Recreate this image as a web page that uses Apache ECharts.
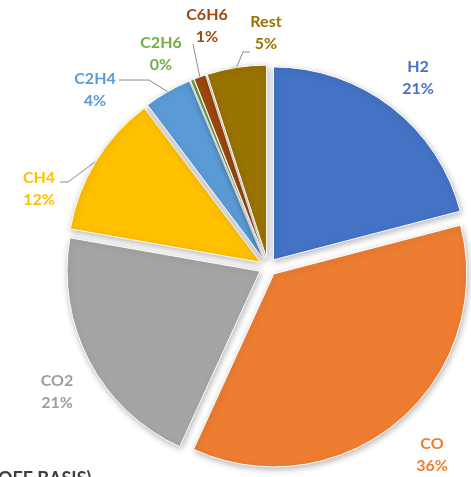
<!DOCTYPE html>
<html>
<head>
<meta charset="utf-8">
<script src="https://cdn.jsdelivr.net/npm/echarts@6/dist/echarts.min.js"></script>
<style>
  html, body { margin: 0; padding: 0; background: #ffffff; }
  #chart { width: 471px; height: 477px; }
</style>
</head>
<body>
<div id="chart"></div>
<script>
// Gas composition, share of each component (%)
const categories = ['H2', 'CO', 'CO2', 'CH4', 'C2H4', 'C2H6', 'C6H6', 'Rest'];
const shares = [21, 36, 21, 12, 4, 0.3, 1, 5];
const footnote = 'OFF BASIS)';

// Slice colours and label colours
const sliceColors = ['#4472C4', '#ED7D31', '#A5A5A5', '#FFC000', '#5B9BD5', '#70AD47', '#9E480E', '#997300'];
const labelColors = ['#4472C4', '#ED7D31', '#9E9E9E', '#FFC000', '#5B9BD5', '#70AD47', '#9E480E', '#997300'];

// Pie geometry
const pieCenter = [268, 267];
const pieRadius = 193;
const explode = 9;

// Where each two-line label block is centred, and leader-line elbows (label side first)
const labelSpots = {
  H2:   [418, 78],
  CO:   [432, 455],
  CO2:  [57, 392],
  CH4:  [39, 189],
  C2H4: [95, 90],
  C2H6: [161, 54],
  C6H6: [207, 26],
  Rest: [266, 33]
};
const leaderElbows = {
  CH4:  [[60, 182], [68, 182]],
  C2H4: [[119, 80], [149, 80]],
  C6H6: [[193, 44]],
  Rest: [[250, 52], [243, 52]]
};

const chart = echarts.init(document.getElementById('chart'), null, { renderer: 'canvas' });

// Exploded slices (no labels)
const sliceData = categories.map((name, i) => ({
  name: name,
  value: shares[i],
  selected: true,
  itemStyle: { color: sliceColors[i] }
}));

// Same values again, transparent, carrying the labels
const labelData = categories.map((name, i) => ({
  name: name,
  value: shares[i],
  label: { color: labelColors[i] },
  labelLine: { show: !!leaderElbows[name] }
}));

chart.setOption({
  animation: false,
  backgroundColor: '#ffffff',
  graphic: [{
    type: 'text',
    x: -2,
    y: 470,
    style: {
      text: footnote,
      font: 'bold 18px Lato',
      fill: '#404040',
      verticalAlign: 'top'
    }
  }],
  series: [{
    type: 'pie',
    center: pieCenter,
    radius: [0, pieRadius],
    startAngle: 90,
    clockwise: true,
    selectedMode: 'multiple',
    selectedOffset: explode,
    emphasis: { disabled: true },
    label: { show: false },
    labelLine: { show: false },
    itemStyle: {
      borderColor: '#ffffff',
      borderWidth: 1,
      shadowBlur: 6,
      shadowColor: 'rgba(0,0,0,0.28)',
      shadowOffsetX: 1,
      shadowOffsetY: 2
    },
    select: {
      itemStyle: { borderColor: '#ffffff', borderWidth: 1 }
    },
    data: sliceData
  }, {
    type: 'pie',
    silent: true,
    center: pieCenter,
    radius: [0, pieRadius],
    startAngle: 90,
    clockwise: true,
    selectedMode: false,
    percentPrecision: 0,
    avoidLabelOverlap: false,
    emphasis: { disabled: true },
    itemStyle: { color: 'rgba(0,0,0,0)', borderWidth: 0 },
    label: {
      show: true,
      position: 'outside',
      formatter: '{b}\n{d}%',
      fontFamily: 'Lato',
      fontWeight: 'bold',
      fontSize: 16,
      lineHeight: 22,
      align: 'center'
    },
    labelLine: {
      lineStyle: { color: '#8c8c8c', width: 1 }
    },
    labelLayout: function (params) {
      const name = categories[params.dataIndex];
      const spot = labelSpots[name];
      const out = { x: spot[0], y: spot[1], align: 'center', verticalAlign: 'middle' };
      const elbows = leaderElbows[name];
      if (elbows && params.labelLinePoints) {
        // push the anchor out to the edge of the exploded slice
        const a = params.labelLinePoints[0];
        const dx = a[0] - pieCenter[0], dy = a[1] - pieCenter[1];
        const len = Math.sqrt(dx * dx + dy * dy) || 1;
        const k = (len + explode) / len;
        const anchor = [pieCenter[0] + dx * k, pieCenter[1] + dy * k];
        out.labelLinePoints = elbows.concat([anchor]);
      }
      return out;
    },
    data: labelData
  }]
});
</script>
</body>
</html>
